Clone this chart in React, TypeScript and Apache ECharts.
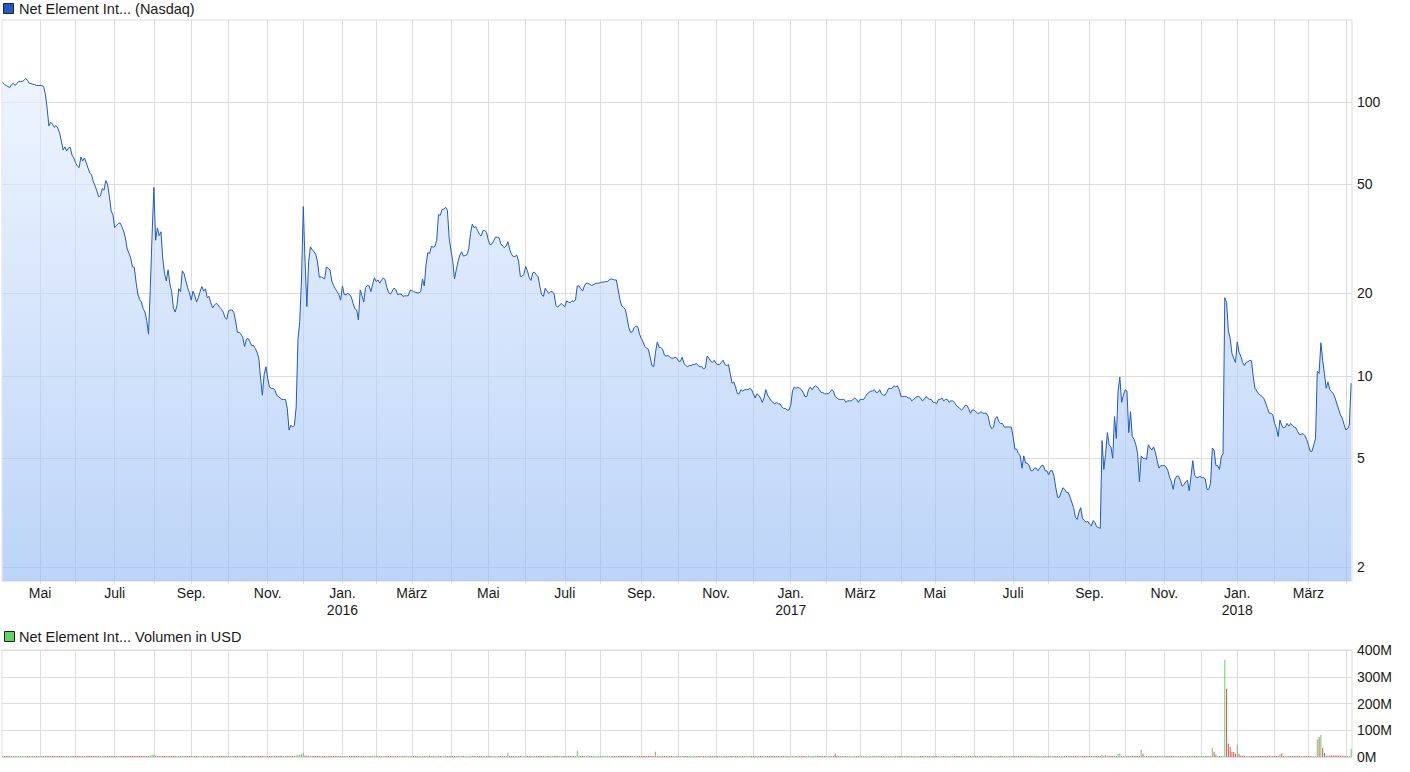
import React, { useEffect, useRef } from "react";
import * as echarts from "echarts";

// Trading days per month, April 2015 .. March 2018
const tradingDaysPerMonth = [
  21, 20, 22, 22, 21, 21, 22, 20, 22,
  19, 20, 22, 21, 21, 22, 20, 23, 21, 21, 21, 21,
  20, 19, 23, 19, 22, 22, 20, 23, 20, 22, 21, 20,
  21, 19, 21,
];
// month offsets (from April 2015) that carry a label
const labelMonths = [1, 3, 5, 7, 9, 11, 13, 15, 17, 19, 21, 23, 25, 27, 29, 31, 33, 35];
const monthTickLabels = [
  "Mai", "Juli", "Sep.", "Nov.", "Jan.\n2016", "März",
  "Mai", "Juli", "Sep.", "Nov.", "Jan.\n2017", "März",
  "Mai", "Juli", "Sep.", "Nov.", "Jan.\n2018", "März",
];
const priceTicks = [2, 5, 10, 20, 50, 100];
const volumeTicks = [0, 100, 200, 300, 400];

// Daily closing prices (USD)
const p2015 = [
  118, 116, 115, 114, 113, 116, 117, 115, 117, 119,
  119, 119, 120, 122, 120, 117, 117, 116, 116, 115,
  115, 115, 115, 114, 107, 95.1, 81.8, 84.5, 83.1, 80.9,
  82, 80.4, 77.2, 72.1, 66.8, 68.6, 66.3, 68, 68.3, 64,
  62.5, 60, 58.4, 57.6, 63, 60.9, 62.5, 60, 57.4, 55.1,
  54.2, 51.1, 49.4, 47.3, 45.1, 45.5, 48.3, 47.7, 51.7, 50,
  45.3, 40, 38.7, 34.8, 35.4, 36, 36.2, 35.1, 33.8, 31.9,
  29.1, 28, 26.9, 25, 24.9, 22, 19.9, 19, 18.6, 17.6,
  17.1, 15.9, 14.2, 20.8, 32.6, 48.8, 31.3, 34.7, 32.5, 33.6,
  26.9, 23.6, 22.2, 24.4, 21.7, 20.3, 17.7, 17.1, 18.1, 20.8,
  20.3, 24.2, 23.6, 22.2, 21, 20.1, 18.9, 20.4, 19.6, 18.6,
  19.3, 20.3, 21.2, 20.4, 20.8, 19.3, 19.5, 18.5, 17.7, 18.1,
  18.4, 18.2, 17.8, 17.5, 17.1, 16.3, 16.1, 17.3, 17.4, 17.4,
  17, 15.8, 14.4, 14.4, 14.2, 13.8, 12.8, 13.6, 13.7, 13.3,
  12.9, 12.9, 12.6, 12.2, 11.6, 9.8, 8.5, 10.1, 10.8, 9.8,
  9.1, 9.0, 9.0, 8.9, 8.5, 8.4, 8.3, 8.2, 8.2, 8.2,
  7.6, 6.34, 6.6, 6.5, 6.6, 7.7, 13.5, 15.8, 22.4, 41.5,
  26, 17.9, 26.1, 29.6, 28.9, 28.4, 27.8, 26.1, 22.9, 23,
  22.8, 22.6, 25, 24.7, 24.4, 22.2, 21.4, 20.8, 20.3, 19.8,
  18.9,
];
const p2016 = [
  21.3, 19.8, 19.8, 20, 19.8, 19.4, 18.4, 17.6, 17.4,
  16.0, 20.6, 19.6, 18.6, 21, 21.4, 21.3, 20.3, 21.6, 22.8,
  22.1, 22.4, 21.8, 22.4, 22.8, 22.4, 21, 20.1, 19.9, 20.4,
  20.9, 20.7, 19.8, 19.9, 19.9, 19.5, 19.6, 19.6, 19.6, 20.5,
  20.5, 20.3, 20.2, 20.1, 20.1, 20.3, 22.6, 21.3, 25.5, 28.2,
  28, 29.7, 29.5, 29.7, 31.3, 38.8, 38.6, 40.5, 40.6, 41.3,
  40.3, 31.9, 28.8, 26.2, 22.6, 24.4, 26.2, 27.6, 28.4, 27.4,
  27.5, 27.7, 29.1, 33.1, 35.8, 34.8, 35.1, 33.9, 32.9, 32.4,
  33.9, 34, 33.4, 31.3, 30.1, 30.3, 31.1, 32.1, 32.1, 32,
  30.4, 29.8, 29.4, 29.8, 30.9, 29, 27.8, 27.3, 27.3, 27.6,
  26.3, 23.1, 23.1, 23.5, 25.1, 24.2, 22.8, 22.3, 23.8, 23.9,
  23.4, 23, 21.2, 19.8, 19.5, 20.9, 20.4, 20, 20.3, 20.3,
  19.9, 18.1, 17.8, 18.1, 18.4, 18.1, 17.9, 18.8, 18.6, 18.5,
  18.8, 18.7, 18.9, 21.3, 21.3, 20.8, 20.4, 21.3, 21.8, 21.8,
  21.6, 21.4, 21.5, 21.7, 21.8, 21.8, 21.9, 22, 22, 22.1,
  22.1, 22.4, 22.6, 22.5, 22.4, 22.4, 20.6, 19, 18, 17.8,
  17.5, 16.3, 15, 14.4, 14.5, 15, 15.2, 15.1, 14.2, 13.7,
  13.3, 12.8, 12.6, 12.5, 11.7, 10.9, 10.8, 12.2, 13.3, 12.7,
  12.7, 12.5, 11.9, 11.8, 11.9, 11.7, 11.6, 11.6, 11.7, 11.6,
  11.3, 11.3, 11.7, 11.1, 10.9, 10.8, 10.9, 10.9, 11, 11,
  11.1, 10.9, 10.8, 10.8, 10.6, 10.7, 11.8, 11.6, 11.3, 11.2,
  11.4, 11.1, 11, 11, 11.2, 11.4, 11, 10.9, 11, 10.2,
  9.4, 9.5, 9.1, 8.6, 8.6, 8.9, 8.8, 8.9, 8.9, 8.9,
  9, 8.9, 8.6, 8.3, 8.6, 8.5, 8.3, 8.0, 8.3, 8.9,
  8.5, 8.3, 8.1, 8, 7.9, 8, 7.9, 7.9, 7.7, 7.6,
  7.6, 7.5, 7.5,
];
const p2017 = [
  7.8, 8.8, 9.1, 9, 9.1, 9, 8.9,
  8.7, 8.4, 8.4, 8.9, 9.1, 8.9, 9.1, 9.2, 9.1, 8.9,
  8.7, 8.7, 8.6, 8.6, 8.6, 8.7, 8.9, 8.8, 8.4, 8.3,
  8.2, 8.2, 8.2, 8.2, 8.0, 8.1, 8.1, 8.1, 8.2, 8.3,
  8.2, 8.0, 8.2, 8.2, 8.2, 8.4, 8.6, 8.7, 8.8, 8.8,
  8.9, 8.7, 8.7, 8.9, 8.6, 8.5, 8.5, 8.7, 9, 9,
  9, 9.2, 9.1, 9.2, 8.9, 8.4, 8.4, 8.4, 8.4, 8.3,
  8.3, 8.1, 8.2, 8.3, 8.4, 8.4, 8.3, 8.1, 8.2, 8.4,
  8.3, 8.2, 8.2, 8, 8, 7.9, 8.2, 8.2, 8.3, 8.1,
  8.2, 8.2, 8, 8.1, 8.1, 8, 7.8, 7.7, 7.6, 7.5,
  7.6, 7.8, 7.8, 7.6, 7.3, 7.5, 7.5, 7.4, 7.3, 7.3,
  7.4, 7.3, 7.3, 7.3, 7.1, 6.6, 6.4, 6.5, 7, 7.1,
  6.8, 6.7, 6.7, 6.5, 6.5, 6.5, 6.5, 6.5, 6.0, 5.4,
  5.4, 5.2, 5.1, 4.6, 5.1, 4.8, 4.8, 4.7, 4.5, 4.5,
  4.6, 4.6, 4.5, 4.6, 4.7, 4.7, 4.5, 4.5, 4.35, 4.5,
  4.5, 4.3, 3.9, 3.6, 3.6, 3.75, 3.9, 3.85, 3.75, 3.75,
  3.6, 3.45, 3.3, 3.05, 2.99, 3.17, 3.3, 3.02, 2.96, 2.92,
  2.94, 2.87, 2.83, 2.96, 2.91, 2.81,
  2.79, 2.77, 5.8, 4.55,
  5.2, 6.2, 5.6, 5.5, 5.0, 7.1, 5.9, 8.8, 9.9, 8.0,
  8.5, 8.9, 8.8, 6.2, 7.4, 6.0, 5.85, 5.6, 5.2, 4.1,
  5.1, 5.0, 5.0, 4.95, 5.6, 5.45, 5.36, 5.5, 5.25, 4.9,
  4.6, 4.7, 4.7, 4.7, 4.65, 4.5, 4.25, 4.1, 3.85, 4.2,
  4.3, 4.3, 4.15, 3.95, 4.0, 4.1, 4.15, 3.8, 4.3, 4.9,
  4.35, 4.25, 4.25, 4.3, 4.25, 4.25, 4.2, 3.85, 3.85, 4.05,
  5.45, 5.35, 4.7, 4.7, 4.55, 5.05, 5.2, 19.3, 18.5, 14.6,
  13.7, 12.1, 11.6, 11.2,
];
const p2018 = [
  13.3, 12.2, 11.8, 11.2, 10.9, 11.2,
  11.25, 11.4, 11.35, 9.9, 9.0, 8.8, 8.6, 8.5, 8.4, 8.25,
  7.95, 7.6, 7.3, 7.3, 7.2, 6.7, 6.45, 6.0, 6.9, 6.6,
  6.45, 6.5, 6.7, 6.55, 6.7, 6.6, 6.5, 6.45, 6.25, 6.1,
  6.12, 6.15, 6.05, 5.85, 5.6, 5.3, 5.3, 5.6, 5.9, 10.4,
  10.2, 13.2, 11.4, 10.2, 9.0, 9.5, 8.9, 8.75, 8.6, 8.3,
  7.9, 7.55, 7.2, 7.0, 6.65, 6.35, 6.4, 6.6, 9.4,
];

// Daily volume (million USD)
const v2015 = [
  2, 1, 2, 1, 1, 2, 1, 2, 1, 2,
  1, 2, 1, 1, 2, 1, 1, 2, 1, 1,
  2, 1, 2, 2, 3, 4, 4, 3, 2, 2,
  2, 2, 3, 2, 3, 2, 2, 2, 3, 2,
  2, 2, 2, 3, 3, 2, 2, 3, 5, 2,
  2, 3, 2, 2, 3, 2, 2, 2, 2, 2,
  3, 3, 2, 3, 2, 2, 2, 2, 2, 3,
  3, 2, 2, 3, 2, 3, 3, 2, 2, 3,
  2, 3, 3, 6, 9, 9, 5, 3, 3, 2,
  3, 2, 2, 3, 2, 2, 3, 2, 2, 3,
  2, 3, 2, 2, 2, 2, 3, 2, 2, 2,
  2, 2, 2, 2, 2, 3, 2, 2, 2, 2,
  2, 2, 2, 2, 2, 2, 2, 2, 2, 2,
  2, 2, 3, 2, 2, 2, 2, 2, 2, 2,
  2, 2, 2, 2, 2, 3, 3, 3, 2, 2,
  2, 2, 2, 2, 2, 2, 2, 2, 2, 2,
  2, 3, 2, 2, 2, 6, 8, 8, 10, 15,
  6, 5, 5, 3, 3, 2, 2, 2, 3, 2,
  2, 2, 3, 2, 2, 2, 2, 2, 2, 2,
  2,
];
const v2016 = [
  2, 2, 2, 2, 2, 2, 2, 3, 2,
  3, 3, 2, 2, 2, 2, 2, 2, 2, 2,
  2, 2, 2, 2, 2, 2, 2, 2, 2, 2,
  2, 2, 2, 2, 2, 2, 2, 2, 2, 2,
  2, 2, 2, 2, 2, 2, 3, 2, 3, 5,
  5, 3, 2, 2, 3, 5, 3, 3, 2, 5,
  3, 3, 3, 3, 3, 2, 2, 2, 2, 2,
  2, 2, 2, 3, 6, 2, 2, 2, 2, 2,
  2, 2, 2, 2, 2, 2, 2, 2, 2, 2,
  2, 2, 2, 2, 16, 2, 2, 2, 2, 2,
  2, 3, 2, 2, 2, 2, 2, 2, 2, 3,
  2, 2, 2, 2, 2, 3, 2, 2, 2, 2,
  2, 2, 2, 2, 2, 2, 2, 2, 2, 2,
  2, 2, 2, 23, 3, 2, 2, 2, 2, 6,
  2, 2, 2, 2, 2, 2, 2, 2, 2, 2,
  2, 2, 2, 2, 2, 2, 2, 2, 2, 2,
  2, 2, 2, 2, 2, 2, 2, 2, 2, 2,
  2, 2, 2, 2, 2, 2, 3, 20, 3, 2,
  2, 2, 2, 2, 2, 2, 2, 2, 2, 2,
  2, 2, 2, 2, 2, 2, 2, 2, 2, 2,
  2, 2, 2, 2, 2, 2, 3, 2, 2, 2,
  2, 2, 2, 2, 2, 2, 2, 2, 2, 2,
  3, 2, 2, 2, 2, 2, 2, 2, 2, 2,
  2, 2, 2, 2, 2, 2, 2, 2, 2, 2,
  2, 2, 2, 2, 2, 2, 2, 2, 2, 2,
  2, 2, 2,
];
const v2017 = [
  2, 3, 2, 2, 2, 2, 2,
  2, 2, 2, 6, 2, 2, 2, 2, 2, 2,
  2, 2, 2, 2, 2, 2, 2, 2, 13, 2,
  2, 2, 2, 2, 2, 2, 2, 2, 2, 2,
  2, 2, 2, 2, 2, 2, 2, 2, 2, 2,
  2, 2, 2, 2, 2, 2, 2, 2, 2, 2,
  2, 2, 2, 2, 2, 2, 2, 2, 2, 2,
  2, 2, 2, 2, 2, 2, 2, 2, 2, 2,
  2, 2, 2, 2, 2, 2, 2, 2, 2, 2,
  2, 2, 2, 2, 2, 2, 2, 2, 2, 2,
  2, 2, 2, 2, 2, 2, 2, 2, 2, 2,
  2, 2, 2, 2, 2, 2, 2, 2, 2, 2,
  2, 2, 2, 2, 2, 2, 2, 2, 3, 3,
  3, 2, 2, 3, 2, 2, 2, 2, 2, 2,
  2, 2, 2, 2, 2, 2, 2, 2, 2, 2,
  2, 2, 3, 3, 2, 2, 2, 2, 2, 2,
  2, 2, 3, 3, 3, 2, 2, 2, 2, 2,
  2, 2, 2, 2, 2, 2,
  2, 3, 8, 4,
  8, 4, 3, 3, 3, 5, 4, 12, 12, 4,
  3, 3, 3, 4, 3, 5, 3, 3, 3, 4,
  27, 12, 3, 3, 3, 3, 3, 2, 2, 2,
  2, 2, 2, 2, 2, 2, 2, 2, 2, 2,
  2, 2, 2, 2, 2, 2, 2, 2, 2, 5,
  2, 2, 2, 2, 2, 2, 2, 2, 2, 3,
  34, 20, 8, 3, 3, 4, 3, 364, 255, 50,
  37, 19, 19, 12,
];
const v2018 = [
  46, 12, 6, 5, 5, 4,
  3, 3, 3, 4, 3, 3, 3, 2, 2, 2,
  3, 3, 6, 2, 2, 3, 3, 2, 10, 14,
  3, 3, 2, 2, 2, 2, 2, 3, 2, 2,
  2, 2, 2, 2, 2, 2, 2, 2, 2, 65,
  75, 83, 34, 15, 5, 6, 6, 6, 6, 6,
  6, 6, 5, 5, 5, 5, 4, 3, 31,
];

const FONT = "'Liberation Sans', Arial, sans-serif";
const NARROW = "'Liberation Sans Narrow', 'Arial Narrow', 'Liberation Sans', sans-serif";
const GRID_COLOR = "#dcdcdc";
const TEXT_COLOR = "#1a1a1a";
const LINE_COLOR = "#2159c4";
const UP_COLOR = "#66cc66";
const DOWN_COLOR = "#dd5555";

const App = () => {
  const ref = useRef<HTMLDivElement>(null);

  useEffect(() => {
    if (!ref.current) return;
    const chart = echarts.init(ref.current, null, { renderer: "svg" });

    const prices = [...p2015, ...p2016, ...p2017, ...p2018];
    const volumes = [...v2015, ...v2016, ...v2017, ...v2018];

    const monthStarts: number[] = [0];
    tradingDaysPerMonth.forEach((n, i) => monthStarts.push(monthStarts[i] + n));
    const gridDays = monthStarts.slice(1);
    const labelDays = labelMonths.map((m) => monthStarts[m]);
    const labelByDay: Record<number, string> = {};
    labelDays.forEach((d, i) => (labelByDay[d] = monthTickLabels[i]));

    const xMin = -0.36;
    const xMax = prices.length - 0.5;

    const priceData = prices.map((v, i) => [i, Math.log10(v)]);
    const volumeData = volumes.map((v, i) => {
      const up = i === 0 || prices[i] >= prices[i - 1];
      return { value: [i, v], itemStyle: { color: up ? UP_COLOR : DOWN_COLOR } };
    });
    const logTicks = priceTicks.map((t) => Math.log10(t));

    const xAxisBase = (gridIndex: number, showLabels: boolean) => ({
      gridIndex,
      type: "value",
      min: xMin,
      max: xMax,
      axisLine: { show: false },
      axisTick: {
        show: showLabels,
        customValues: gridDays,
        length: 3,
        lineStyle: { color: GRID_COLOR },
      },
      splitLine: { show: true, lineStyle: { color: GRID_COLOR, width: 1 } },
      axisLabel: showLabels
        ? {
            show: true,
            customValues: labelDays,
            formatter: (v: number) => labelByDay[Math.round(v)] ?? "",
            color: TEXT_COLOR,
            fontSize: 14,
            fontFamily: FONT,
            lineHeight: 17,
            margin: 3,
          }
        : { show: false },
    });

    const option = {
      animation: false,
      backgroundColor: "#ffffff",
      textStyle: { fontFamily: FONT },
      grid: [
        { left: 2, top: 20, width: 1350, height: 561, show: true, borderColor: GRID_COLOR, borderWidth: 1 },
        { left: 2, top: 650, width: 1350, height: 107, show: true, borderColor: GRID_COLOR, borderWidth: 1 },
      ],
      xAxis: [xAxisBase(0, true), xAxisBase(1, false)],
      yAxis: [
        {
          gridIndex: 0,
          type: "value",
          position: "right",
          min: Math.log10(1.78),
          max: Math.log10(199.5),
          axisLine: { show: false },
          axisTick: { show: false, customValues: logTicks },
          splitLine: { show: true, lineStyle: { color: GRID_COLOR, width: 1 } },
          axisLabel: {
            customValues: logTicks,
            formatter: (v: number) => String(Math.round(Math.pow(10, v))),
            color: TEXT_COLOR,
            fontSize: 14,
            fontFamily: FONT,
            margin: 5,
          },
        },
        {
          gridIndex: 1,
          type: "value",
          position: "right",
          min: 0,
          max: 400,
          axisLine: { show: false },
          axisTick: { show: false, customValues: volumeTicks },
          splitLine: { show: true, lineStyle: { color: GRID_COLOR, width: 1 } },
          axisLabel: {
            customValues: volumeTicks,
            formatter: (v: number) => `${v}M`,
            color: TEXT_COLOR,
            fontSize: 14,
            fontFamily: NARROW,
            margin: 5,
          },
        },
      ],
      graphic: [
        {
          type: "rect",
          shape: { x: 3.5, y: 3.5, width: 10, height: 10 },
          style: { fill: "#1f5ac6", stroke: "#222", lineWidth: 1 },
        },
        {
          type: "text",
          x: 19,
          y: 8.5,
          style: {
            text: "Net Element Int... (Nasdaq)",
            fill: TEXT_COLOR,
            font: `14.5px ${FONT}`,
            verticalAlign: "middle",
          },
        },
        {
          type: "rect",
          shape: { x: 4.5, y: 631.5, width: 10, height: 10 },
          style: { fill: "#63d463", stroke: "#222", lineWidth: 1 },
        },
        {
          type: "text",
          x: 19,
          y: 636.5,
          style: {
            text: "Net Element Int... Volumen in USD",
            fill: TEXT_COLOR,
            font: `14.5px ${FONT}`,
            verticalAlign: "middle",
          },
        },
      ],
      series: [
        {
          type: "line",
          xAxisIndex: 0,
          yAxisIndex: 0,
          data: priceData,
          showSymbol: false,
          symbol: "none",
          lineStyle: { color: LINE_COLOR, width: 1 },
          areaStyle: {
            origin: "start",
            opacity: 1,
            color: {
              type: "linear",
              x: 0,
              y: 20,
              x2: 0,
              y2: 581,
              global: true,
              colorStops: [
                { offset: 0, color: "rgba(237,244,255,0.63)" },
                { offset: 1, color: "rgba(149,187,244,0.63)" },
              ],
            },
          },
          z: 3,
        },
        {
          type: "bar",
          xAxisIndex: 1,
          yAxisIndex: 1,
          data: volumeData,
          barWidth: 1,
          barMinHeight: 1,
          z: 3,
        },
      ],
    };

    chart.setOption(option as any);
    return () => chart.dispose();
  }, []);

  return (
    <div
      ref={ref}
      style={{ position: "fixed", left: 0, top: 0, width: 1410, height: 772, background: "#fff" }}
    />
  );
};

export default App;
